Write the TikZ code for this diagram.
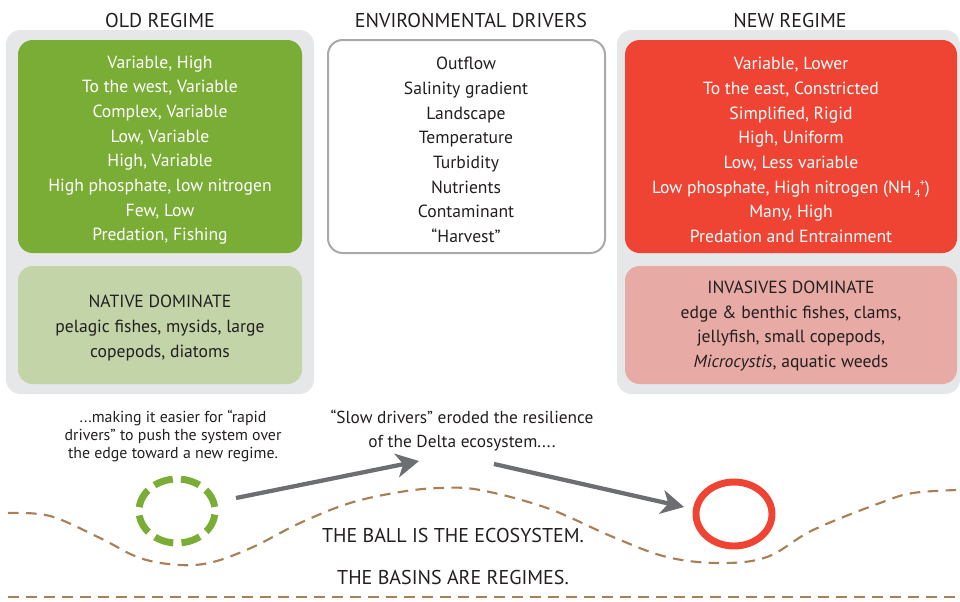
\documentclass[tikz,border=0pt]{standalone}
\usepackage{fontspec}
\setmainfont{PT Sans}
\usetikzlibrary{arrows.meta,shapes.geometric}
\definecolor{panelgray}{HTML}{E6E7E8}
\definecolor{oldgreen}{HTML}{7AAD36}
\definecolor{nativegreen}{HTML}{C3D4A9}
\definecolor{newred}{HTML}{EF4433}
\definecolor{invpink}{HTML}{E8AAA4}
\definecolor{arrowgray}{HTML}{6D6E71}
\definecolor{basinbrown}{HTML}{A98056}
\definecolor{boxborder}{HTML}{A7A9AC}
\definecolor{textdark}{HTML}{231F20}
\tikzset{
  panel/.style={fill=panelgray, rounded corners=11pt},
  box/.style={rounded corners=11pt},
  boxtext/.style={align=center, font=\fontsize{13.2}{18.5}\selectfont, inner sep=0pt},
  title/.style={font=\fontsize{15}{17}\selectfont, text=textdark, inner sep=0pt},
  note/.style={align=center, font=\fontsize{11.9}{13.2}\selectfont, text=textdark, inner sep=0pt},
  bigcap/.style={font=\fontsize{15}{17}\selectfont, text=textdark, inner sep=0pt},
  pusharrow/.style={draw=arrowgray, line width=3.2pt, -{Stealth[length=17pt, width=18pt, inset=5pt]}},
  basin/.style={draw=basinbrown, line width=1.6pt, dash pattern=on 8pt off 5.5pt},
}
\begin{document}
\begin{tikzpicture}[x=0.75pt,y=-0.75pt]
\useasboundingbox (0,0) rectangle (960,601);
% titles
\node[title] (tOld) at (160,20) {OLD REGIME};
\node[title] (tEnv) at (471,20) {ENVIRONMENTAL DRIVERS};
\node[title] (tNew) at (790,20) {NEW REGIME};
% panels
\fill[panel] (6,30) rectangle (314,394);
\fill[panel] (617,30) rectangle (960,394);
% old regime boxes
\fill[box, oldgreen] (18,40) rectangle (302,253);
\fill[box, nativegreen] (18,266) rectangle (302,384);
% drivers box
\draw[box, draw=boxborder, line width=1.5pt, fill=white] (328,40) rectangle (605,253);
% new regime boxes
\fill[box, newred] (625,40) rectangle (957,253);
\fill[box, invpink] (625,266) rectangle (957,384);
% texts
\node[boxtext, text=white] (oldList) at (160,150) {Variable, High\\To the west, Variable\\Complex, Variable\\Low, Variable\\High, Variable\\High phosphate, low nitrogen\\Few, Low\\Predation, Fishing};
\node[boxtext, text=textdark] (envList) at (466,150) {Outflow\\Salinity gradient\\Landscape\\Temperature\\Turbidity\\Nutrients\\Contaminant\\“Harvest”};
\node[boxtext, text=white] (newList) at (791,150) {Variable, Lower\\To the east, Constricted\\Simplified, Rigid\\High, Uniform\\Low, Less variable\\Low phosphate, High nitrogen (NH\,\raisebox{-0.45ex}{\fontsize{8}{8}\selectfont 4}\raisebox{0.75ex}{\kern-0.05em\fontsize{8}{8}\selectfont +})\\Many, High\\Predation and Entrainment};
\node[boxtext, text=textdark] (nativeText) at (160,328) {NATIVE DOMINATE\\pelagic fishes, mysids, large\\copepods, diatoms};
\node[boxtext, text=textdark] (invText) at (791,326) {INVASIVES DOMINATE\\edge \& benthic fishes, clams,\\jellyfish, small copepods,\\\textit{Microcystis}, aquatic weeds};
% notes
\node[note] (noteRapid) at (173,436) {...making it easier for “rapid\\drivers” to push the system over\\the edge toward a new regime.};
\node[note, font=\fontsize{13}{18}\selectfont] (noteSlow) at (462,431) {“Slow drivers” eroded the resilience\\of the Delta ecosystem....};
\node[bigcap] (ballText) at (453,535) {THE BALL IS THE ECOSYSTEM.};
\node[bigcap] (basinText) at (453,577) {THE BASINS ARE REGIMES.};
% basins
\draw[basin] plot[smooth, tension=0.6] coordinates {(8,513) (50,516) (100,538) (140,558) (180,565) (213,562) (253,547) (300,523) (350,503) (400,492) (440,488) (480,490) (547,508) (613,537) (667,557) (720,563) (767,557) (813,530) (880,503) (913,493) (958,490)};
\coordinate (lineL) at (8,597);
\coordinate (lineR) at (958,597);
\draw[basin] (lineL) -- (lineR);
% balls
\node[ellipse, draw=oldgreen, line width=5.2pt, dash pattern=on 14.5pt off 6.2pt, dash phase=17.6pt, minimum width=57pt, minimum height=48pt, inner sep=0pt] (ballOld) at (177,511) {};
\node[ellipse, draw=newred, line width=5.2pt, minimum width=57pt, minimum height=48pt, inner sep=0pt] (ballNew) at (734,514) {};
% arrows
\coordinate (a1s) at (236,498);
\coordinate (a1e) at (419,461);
\coordinate (a2s) at (494,464);
\coordinate (a2e) at (684,507);
\draw[pusharrow] (a1s) -- (a1e);
\draw[pusharrow] (a2s) -- (a2e);
\end{tikzpicture}
\end{document}
